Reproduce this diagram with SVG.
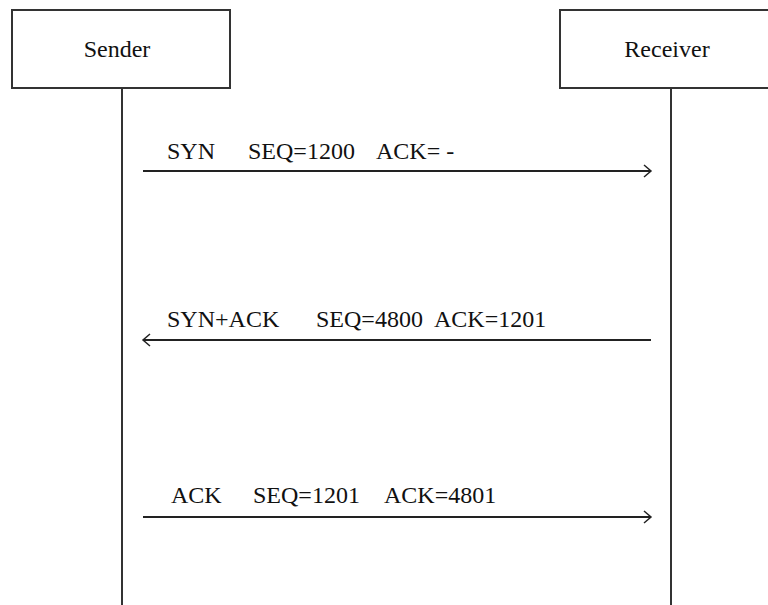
<svg xmlns="http://www.w3.org/2000/svg" width="768" height="605" viewBox="0 0 768 605">
<style>
.box{fill:#fff;stroke:#333;stroke-width:2}
.life{stroke:#333;stroke-width:2;fill:none}
.msg{stroke:#222;stroke-width:2;fill:none}
.head{stroke:#222;stroke-width:1.5;fill:none}
.t{font-family:'Liberation Serif','DejaVu Serif',serif;font-size:24px;fill:#111}
</style>
<rect width="768" height="605" fill="#fff"/>
<g id="sender">
<rect class="box" x="12" y="10" width="218" height="78"/>
<line class="life" x1="122" y1="88" x2="122" y2="605"/>
<text class="t" font-family="Liberation Serif, serif" x="117" y="57" text-anchor="middle">Sender</text>
</g>
<g id="receiver">
<rect class="box" x="560" y="10" width="222" height="78"/>
<line class="life" x1="671" y1="88" x2="671" y2="605"/>
<text class="t" font-family="Liberation Serif, serif" x="667" y="57" text-anchor="middle">Receiver</text>
</g>
<g id="connectors">
<line class="msg" x1="143" y1="171" x2="651" y2="171"/>
<polyline class="head" points="644,165 651,171 644,177"/>
<line class="msg" x1="143" y1="340" x2="651" y2="340"/>
<polyline class="head" points="150,334 143,340 150,346"/>
<line class="msg" x1="143" y1="517" x2="651" y2="517"/>
<polyline class="head" points="644,511 651,517 644,523"/>
</g>
<g id="labels" font-family="Liberation Serif, serif">
<text class="t" x="167" y="159">SYN</text>
<text class="t" x="248" y="159">SEQ=1200</text>
<text class="t" x="376" y="159">ACK= -</text>
<text class="t" x="167" y="327">SYN+ACK</text>
<text class="t" x="316" y="327">SEQ=4800</text>
<text class="t" x="434" y="327">ACK=1201</text>
<text class="t" x="171" y="503">ACK</text>
<text class="t" x="253" y="503">SEQ=1201</text>
<text class="t" x="384" y="503">ACK=4801</text>
</g>
</svg>
